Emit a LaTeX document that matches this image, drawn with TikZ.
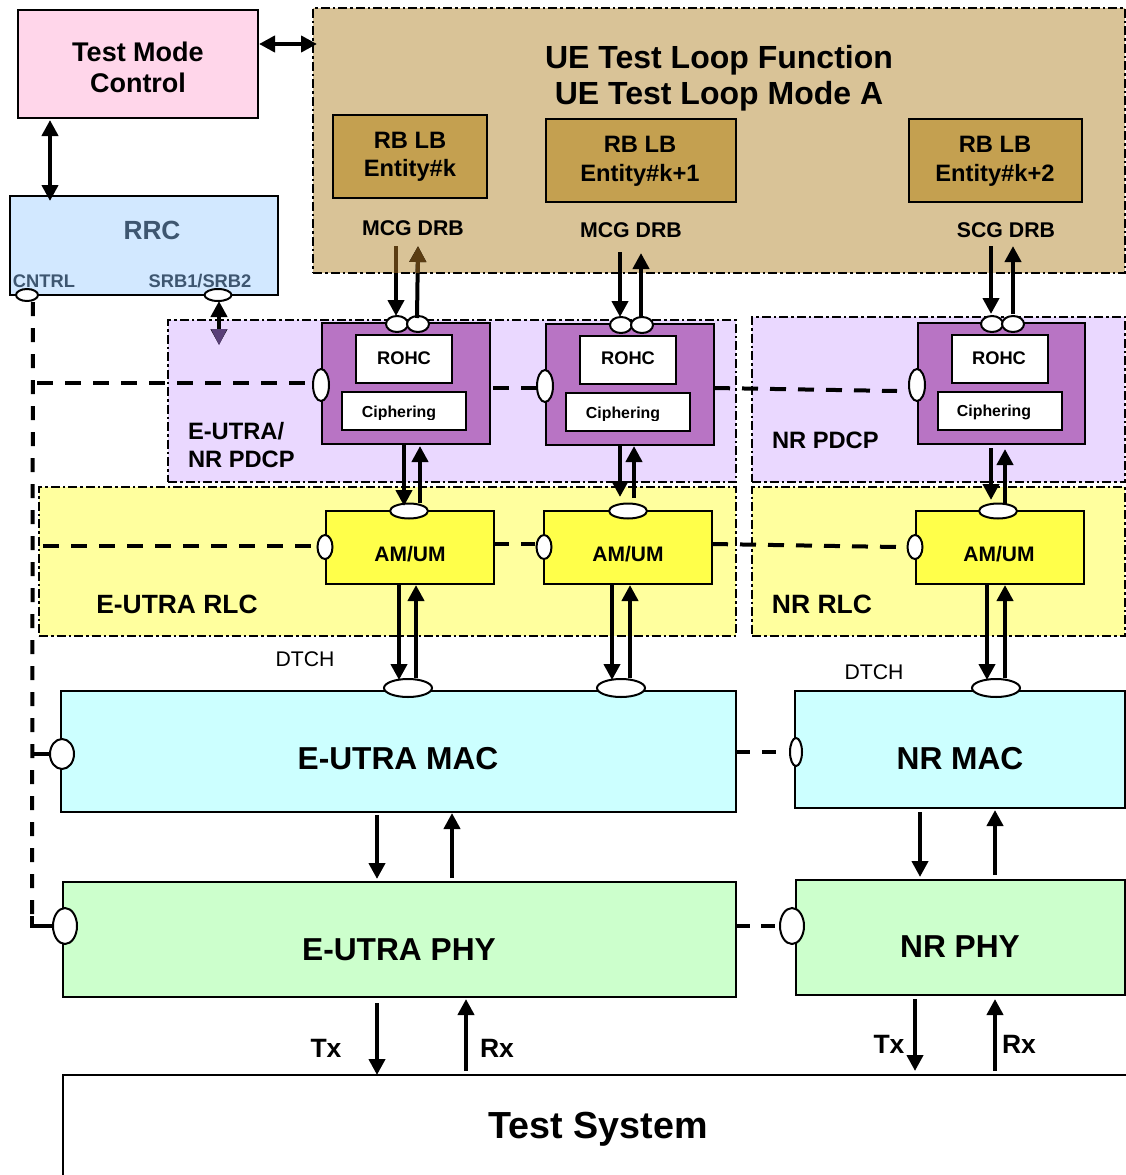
\documentclass[tikz,border=0pt]{standalone}
\usepackage{fontspec}
\setmainfont{Liberation Sans}
\usetikzlibrary{shapes.geometric,arrows.meta}
\definecolor{cPink}{HTML}{FFD6EA}
\definecolor{cBlue}{HTML}{D2E8FF}
\definecolor{cTan}{HTML}{D9C397}
\definecolor{cEnt}{HTML}{C4A050}
\definecolor{cLil}{HTML}{EAD8FF}
\definecolor{cPur}{HTML}{B874C4}
\definecolor{cLY}{HTML}{FFFF9E}
\definecolor{cY}{HTML}{FFFF4A}
\definecolor{cMac}{HTML}{CCFFFF}
\definecolor{cPhy}{HTML}{CCFFCC}
\definecolor{cRrcT}{HTML}{3E5670}
\definecolor{cBrown}{HTML}{5A3C12}
\definecolor{cPlum}{HTML}{5A4078}
\newcommand\fs[2]{\fontsize{#1}{#2}\selectfont}
\newcommand\bx[7]{%
  \pgfmathsetmacro\cxx{(#4+#6)/2}\pgfmathsetmacro\cyy{(#5+#7)/2}%
  \pgfmathsetmacro\www{#6-#4}\pgfmathsetmacro\hhh{#7-#5}%
  \node[#1,#3,minimum width=\www pt,minimum height=\hhh pt] (#2) at (\cxx,\cyy) {};}
\newcommand\lnk[4]{\coordinate (#2s) at (#3); \coordinate (#2e) at (#4); \draw[#1] (#2s) -- (#2e);}
\tikzset{
  area/.style={draw=black,line width=2pt,inner sep=0,outer sep=0,rectangle,dash pattern=on 9pt off 3pt on 2.5pt off 3pt},
  solid box/.style={draw=black,line width=2pt,inner sep=0,outer sep=0,rectangle},
  port/.style={ellipse,draw=black,fill=white,line width=2pt,inner sep=0,outer sep=0},
  arr/.style={line width=4pt,-{Triangle[length=16pt,width=16pt]}},
  arrs/.style={line width=4pt,{Triangle[length=16pt,width=16pt]}-{Triangle[length=16pt,width=16pt]}},
  ctl/.style={line width=4pt,dash pattern=on 16pt off 12pt},
  ctlv/.style={line width=4pt,dash pattern=on 14pt off 12pt},
  txt/.style={inner sep=0,outer sep=0,align=center,text=black},
}
\begin{document}
\begin{tikzpicture}[x=1pt,y=-1pt]
\useasboundingbox (0,0) rectangle (1126,1175);
% regions
\bx{area,fill=cTan}{tan}{}{313}{8}{1125}{273}
\bx{area,fill=cLil}{pdcpA}{}{168}{320}{736}{482}
\bx{area,fill=cLil}{pdcpB}{}{752}{317}{1125}{482}
\bx{area,fill=cLY}{rlcA}{}{39}{487}{736}{636}
\bx{area,fill=cLY}{rlcB}{}{752}{487}{1125}{636}
% boxes
\bx{solid box,fill=cPink}{tmc}{}{18}{10}{258}{118}
\bx{solid box,fill=cBlue}{rrc}{}{10}{196}{278}{295}
\bx{solid box,fill=cEnt}{ent1}{}{333}{115}{487}{198}
\bx{solid box,fill=cEnt}{ent2}{}{546}{119}{736}{202}
\bx{solid box,fill=cEnt}{ent3}{}{909}{119}{1082}{202}
\bx{solid box,fill=cPur}{pd1}{}{322}{323}{490}{444}
\bx{solid box,fill=white}{ro1}{}{356}{335}{452}{383}
\bx{solid box,fill=white}{ci1}{}{342}{392}{466}{430}
\bx{solid box,fill=cPur}{pd2}{}{546}{324}{714}{445}
\bx{solid box,fill=white}{ro2}{}{580}{336}{676}{384}
\bx{solid box,fill=white}{ci2}{}{566}{393}{690}{431}
\bx{solid box,fill=cPur}{pd3}{}{918}{323}{1085}{444}
\bx{solid box,fill=white}{ro3}{}{952}{335}{1048}{383}
\bx{solid box,fill=white}{ci3}{}{938}{392}{1062}{430}
\bx{solid box,fill=cY}{am1}{}{326}{511}{494}{584}
\bx{solid box,fill=cY}{am2}{}{544}{511}{712}{584}
\bx{solid box,fill=cY}{am3}{}{916}{511}{1084}{584}
\bx{solid box,fill=cMac}{mac1}{}{61}{691}{736}{812}
\bx{solid box,fill=cMac}{mac2}{}{795}{691}{1125}{808}
\bx{solid box,fill=cPhy}{phy1}{}{63}{882}{736}{997}
\bx{solid box,fill=cPhy}{phy2}{}{796}{880}{1125}{995}
% ports
\node[port,minimum width=22pt,minimum height=12pt] (pCn) at (27,295) {};
\node[port,minimum width=27pt,minimum height=12pt] (pSr) at (218,295) {};
\node[port,minimum width=16pt,minimum height=32pt] (pL1) at (321,385) {};
\node[port,minimum width=16pt,minimum height=32pt] (pL2) at (545,386) {};
\node[port,minimum width=16pt,minimum height=32pt] (pL3) at (917,385) {};
\node[port,minimum width=15pt,minimum height=24pt] (rL1) at (325,547) {};
\node[port,minimum width=15pt,minimum height=24pt] (rL2) at (544,547) {};
\node[port,minimum width=15pt,minimum height=24pt] (rL3) at (915,547) {};
\node[port,minimum width=24pt,minimum height=30pt] (mL1) at (62,754) {};
\node[port,minimum width=12pt,minimum height=28pt] (mL2) at (796,752) {};
\node[port,minimum width=24pt,minimum height=36pt] (yL1) at (65,926) {};
\node[port,minimum width=24pt,minimum height=36pt] (yL2) at (792,926) {};
% control dashed lines
\coordinate (cTop) at (33,302);
\coordinate (cMid) at (32,914);
\coordinate (cCor) at (32,926);
\coordinate (cP) at (37,383);
\coordinate (cPe) at (306,383);
\coordinate (cR) at (43,546);
\coordinate (cRe) at (311,546);
\coordinate (cM) at (32,754);
\draw[ctlv] (cTop) -- (cMid);
\draw[line width=4pt] (32,916) -- (cCor) -- (yL1.west);
\draw[ctl] (cP) -- (cPe);
\draw[ctl] (cR) -- (cRe);
\draw[line width=4pt] (cM) -- (mL1.west);
\coordinate (d1) at (493,388); \coordinate (d1e) at (536,388);
\coordinate (d2) at (714,388); \coordinate (d2e) at (897,391);
\coordinate (d3) at (493,544); \coordinate (d3e) at (535,544);
\coordinate (d4) at (712,544); \coordinate (d4e) at (897,547);
\draw[ctl] (d1) -- (d1e);
\draw[ctl] (d2) -- (d2e);
\draw[ctl] (d3) -- (d3e);
\draw[ctl] (d4) -- (d4e);
\draw[ctl,dash pattern=on 14pt off 12pt on 14pt off 100pt] (mac1.east |- mL2) -- (mL2.west);
\draw[ctl,dash pattern=on 14pt off 11pt on 14pt off 100pt] (phy1.east |- yL2) -- (yL2.west);
% top ports
\node[port,minimum width=22pt,minimum height=16pt] (t1a) at (397,324) {};
\node[port,minimum width=22pt,minimum height=16pt] (t1b) at (418,324) {};
\node[port,minimum width=22pt,minimum height=16pt] (t2a) at (621,325) {};
\node[port,minimum width=22pt,minimum height=16pt] (t2b) at (642,325) {};
\node[port,minimum width=22pt,minimum height=16pt] (t3a) at (992,324) {};
\node[port,minimum width=22pt,minimum height=16pt] (t3b) at (1013,324) {};
\node[port,minimum width=38pt,minimum height=15pt] (r1) at (409,511) {};
\node[port,minimum width=38pt,minimum height=15pt] (r2) at (628,511) {};
\node[port,minimum width=38pt,minimum height=15pt] (r3) at (998,511) {};
\node[port,minimum width=48pt,minimum height=18pt] (m1) at (408,688) {};
\node[port,minimum width=48pt,minimum height=18pt] (m2) at (621,688) {};
\node[port,minimum width=48pt,minimum height=18pt] (m3) at (996,688) {};
% arrows
\coordinate (a1s) at (259,44); \coordinate (a1e) at (317,44);
\draw[arrs] (a1s) -- (a1e);
\coordinate (a2s) at (50,120); \coordinate (a2e) at (50,201);
\draw[arrs] (a2s) -- (a2e);
\coordinate (a3s) at (219,301); \coordinate (a3e) at (219,345);
\draw[arrs] (a3s) -- (a3e);
\fill[cPlum] (211,329) -- (227,329) -- (219,345) -- cycle;
\lnk{arr}{b1}{396,246}{396,316}
\lnk{arr}{b2}{417,318}{418,246}
\draw[line width=4pt,cBrown] (396,246) -- (396,273);
\draw[line width=4pt,cBrown,-{Triangle[length=16pt,width=16pt]}] (417.7,273) -- (418,246);
\lnk{arr}{b3}{620,252}{620,317}
\lnk{arr}{b4}{641,318}{641,253}
\lnk{arr}{b5}{991,246}{991,314}
\lnk{arr}{b6}{1013,314}{1013,246}
\lnk{arr}{c1}{404,445}{404,506}
\lnk{arr}{c2}{420,503}{420,446}
\lnk{arr}{c3}{620,445}{620,497}
\lnk{arr}{c4}{634,498}{634,446}
\lnk{arr}{c5}{991,448}{991,500}
\lnk{arr}{c6}{1005,505}{1005,449}
\lnk{arr}{e1}{399,585}{399,680}
\lnk{arr}{e2}{416,678}{416,585}
\lnk{arr}{e3}{612,585}{612,680}
\lnk{arr}{e4}{630,678}{630,585}
\lnk{arr}{e5}{987,585}{987,680}
\lnk{arr}{e6}{1005,678}{1005,585}
\lnk{arr}{f1}{377,815}{377,879}
\lnk{arr}{f2}{452,878}{452,813}
\lnk{arr}{f3}{920,812}{920,877}
\lnk{arr}{f4}{995,875}{995,810}
\lnk{arr}{g1}{377,1003}{377,1075}
\lnk{arr}{g2}{466,1071}{466,999}
\lnk{arr}{g3}{915,999}{915,1071}
\lnk{arr}{g4}{995,1071}{995,999}
% test system
\coordinate (tsA) at (63,1175); \coordinate (tsB) at (63,1075); \coordinate (tsC) at (1126,1075);
\draw[line width=2pt] (tsA) -- (tsB) -- (tsC);
% texts
\node[txt,font={\bfseries\fs{27}{31}}] (lTmc) at (138,67) {Test Mode\\Control};
\node[txt,font={\bfseries\fs{32}{36.5}}] (lUe) at (719,78) {UE Test Loop Function\\UE Test Loop Mode A};
\node[txt,font={\bfseries\fs{23.7}{28.5}}] (lE1) at (410,157) {RB LB\\Entity\#k};
\node[txt,font={\bfseries\fs{23.7}{29}}] (lE2) at (640,161) {RB LB\\Entity\#k+1};
\node[txt,font={\bfseries\fs{23.7}{29}}] (lE3) at (995,161) {RB LB\\Entity\#k+2};
\node[txt,font={\bfseries\fs{21.3}{24}}] (lD1) at (413,228) {MCG DRB};
\node[txt,font={\bfseries\fs{21.3}{24}}] (lD2) at (631,230) {MCG DRB};
\node[txt,font={\bfseries\fs{21.3}{24}}] (lD3) at (1006,230) {SCG DRB};
\node[txt,text=cRrcT,font={\bfseries\fs{26.3}{30}}] (lRrc) at (152,230) {RRC};
\node[txt,text=cRrcT,font={\bfseries\fs{18.3}{20}}] (lCn) at (44,281) {CNTRL};
\node[txt,text=cRrcT,font={\bfseries\fs{18.3}{20}}] (lSr) at (200,281) {SRB1/SRB2};
\node[txt,font={\bfseries\fs{18.3}{20}}] (lR1) at (404,358) {ROHC};
\node[txt,font={\bfseries\fs{18.3}{20}}] (lR2) at (628,358) {ROHC};
\node[txt,font={\bfseries\fs{18.3}{20}}] (lR3) at (999,358) {ROHC};
\node[txt,font={\bfseries\fs{15.9}{18}}] (lC1) at (399,413) {Ciphering};
\node[txt,font={\bfseries\fs{15.9}{18}}] (lC2) at (623,414) {Ciphering};
\node[txt,font={\bfseries\fs{15.9}{18}}] (lC3) at (994,412) {Ciphering};
\fill[white] (350,419.5) rectangle (460,428);
\fill[white] (574,420.5) rectangle (684,429);
\node[txt,align=left,anchor=west,font={\bfseries\fs{23.7}{28.5}}] (lPa) at (188,445) {E-UTRA/\\NR PDCP};
\node[txt,anchor=west,font={\bfseries\fs{23.7}{28.5}}] (lPb) at (772,440) {NR PDCP};
\node[txt,font={\bfseries\fs{21}{24}}] (lA1) at (410,554) {AM/UM};
\node[txt,font={\bfseries\fs{21}{24}}] (lA2) at (628,554) {AM/UM};
\node[txt,font={\bfseries\fs{21}{24}}] (lA3) at (999,554) {AM/UM};
\node[txt,font={\bfseries\fs{26.4}{30}}] (lRa) at (177,604) {E-UTRA RLC};
\node[txt,font={\bfseries\fs{26.5}{30}}] (lRb) at (822,604) {NR RLC};
\node[txt,font={\fs{21.2}{24}}] (lDa) at (305,659) {DTCH};
\node[txt,font={\fs{21.2}{24}}] (lDb) at (874,672) {DTCH};
\node[txt,font={\bfseries\fs{31.7}{36}}] (lM1) at (398,759) {E-UTRA MAC};
\node[txt,font={\bfseries\fs{31.7}{36}}] (lM2) at (960,759) {NR MAC};
\node[txt,font={\bfseries\fs{31.7}{36}}] (lP1) at (399,950) {E-UTRA PHY};
\node[txt,font={\bfseries\fs{31.7}{36}}] (lP2) at (960,947) {NR PHY};
\node[txt,font={\bfseries\fs{26.5}{30}}] (lT1) at (326,1048) {Tx};
\node[txt,font={\bfseries\fs{26.5}{30}}] (lX1) at (497,1048) {Rx};
\node[txt,font={\bfseries\fs{26.5}{30}}] (lT2) at (889,1044) {Tx};
\node[txt,font={\bfseries\fs{26.5}{30}}] (lX2) at (1019,1044) {Rx};
\node[txt,font={\bfseries\fs{37.7}{42}}] (lTs) at (598,1129) {Test System};
\end{tikzpicture}
\end{document}
